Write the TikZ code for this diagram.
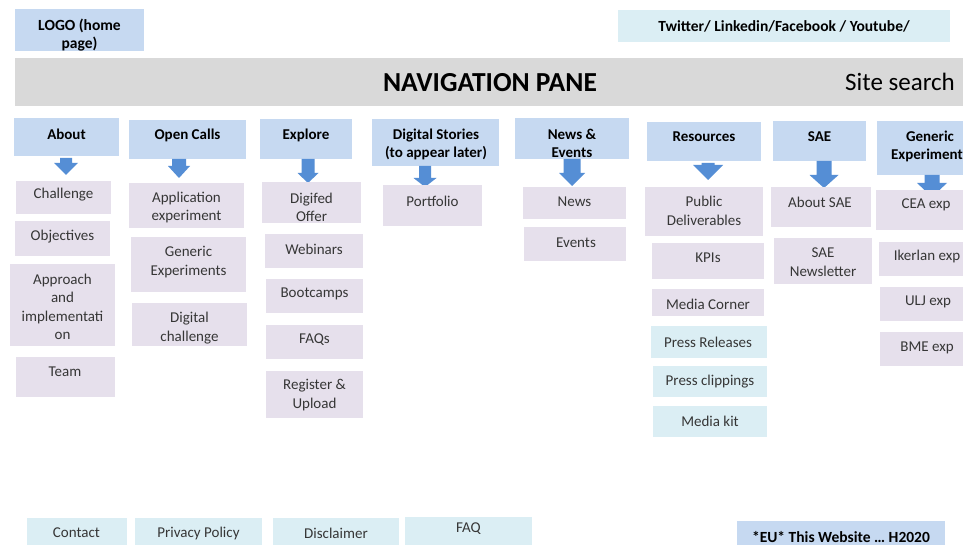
\documentclass[tikz,border=0pt]{standalone}
\usepackage{fontspec}
\setmainfont{Carlito}
\usetikzlibrary{calc}

\definecolor{hdrblue}{HTML}{C6D9F1}
\definecolor{lilac}{HTML}{E6E0EC}
\definecolor{paleCyan}{HTML}{DBEEF4}
\definecolor{paneGray}{HTML}{D9D9D9}
\definecolor{arrowBlue}{HTML}{558ED5}
\definecolor{inkGray}{HTML}{363636}

\tikzset{
  boxbase/.style={rectangle, inner sep=0pt, outer sep=0pt},
  hdrbox/.style={boxbase, fill=hdrblue},
  subbox/.style={boxbase, fill=lilac},
  cyanbox/.style={boxbase, fill=paleCyan},
  panebox/.style={boxbase, fill=paneGray},
  txt/.style={inner sep=0pt, align=center, text=inkGray, yshift=-1pt, font=\fontsize{15}{18.5}\selectfont},
  hdrtxt/.style={txt, text=black, font=\bfseries\fontsize{15}{18.5}\selectfont},
  smallbold/.style={txt, text=black, font=\bfseries\fontsize{15.5}{18.5}\selectfont},
}

% \card[style]{name}{x1}{y1}{x2}{y2}
\newcommand\card[6][subbox]{%
  \node[#1, minimum width={(#5-#3)*1pt}, minimum height={(#6-#4)*1pt}]
    (#2) at ({(#3+#5)/2},{(#4+#6)/2}) {};
}
% \cardtext[style]{name}{x}{y}{text}
\newcommand\cardtext[5][txt]{\node[#1] (#2-t) at (#3,#4) {#5};}

% block arrow hanging below a header node:
% \blockarrow{node}{dx}{top}{head start}{tip}{shaft width}{head width}
\newcommand\blockarrow[7]{%
  \begin{scope}[shift={(#1.south)}]
    \fill[arrowBlue] ({#2-#6/2},#3) -- ({#2+#6/2},#3) -- ({#2+#6/2},#4)
      -- ({#2+#7/2},#4) -- (#2,#5) -- ({#2-#7/2},#4) -- ({#2-#6/2},#4) -- cycle;
  \end{scope}}

\begin{document}
\begin{tikzpicture}[x=1pt,y=-1pt]
\clip (0,0) rectangle (963,545);
\fill[white] (0,0) rectangle (963,545);

% top bar
\card[hdrbox]{logo}{15}{9}{144}{51}
\cardtext[smallbold]{logo}{79.5}{34}{LOGO (home\\page)}
\card[cyanbox]{social}{618}{10}{950}{42}
\cardtext[smallbold]{social}{784}{25.5}{Twitter/ Linkedin/Facebook / Youtube/}

% navigation pane
\card[panebox]{nav}{15}{58}{985}{106}
\node[txt, text=black, font=\bfseries\fontsize{27.5}{30}\selectfont] (nav-t) at (490,81.5) {NAVIGATION PANE};
\node[txt, text=black, font=\fontsize{25}{30}\selectfont] (search) at (900,80.5) {Site search};

% column headers
\card[hdrbox]{about}{14}{118}{119}{156}
\cardtext[hdrtxt]{about}{66.5}{133}{About}
\card[hdrbox]{calls}{129}{120}{246}{159}
\cardtext[hdrtxt]{calls}{187.5}{134}{Open Calls}
\card[hdrbox]{explore}{260}{119}{352}{159}
\cardtext[hdrtxt]{explore}{306}{134}{Explore}
\card[hdrbox]{stories}{372}{119}{499}{166}
\cardtext[hdrtxt]{stories}{436}{143.5}{Digital Stories\\(to appear later)}
\card[hdrbox]{news}{515}{118}{629}{159}
\cardtext[hdrtxt]{news}{572}{142.5}{News \&\\Events}
\card[hdrbox]{res}{647}{122}{761}{161}
\cardtext[hdrtxt]{res}{704}{136}{Resources}
\card[hdrbox]{sae}{773}{121}{866}{161}
\cardtext[hdrtxt]{sae}{819.5}{136}{SAE}
\card[hdrbox]{generic}{877}{121}{983}{175}
\cardtext[hdrtxt]{generic}{930}{145.5}{Generic\\Experiments}

% arrows from headers to their first entries
\blockarrow{about}{-0.5}{2}{7}{19}{12}{24}
\blockarrow{calls}{-8.5}{0}{7}{19}{14}{22}
\blockarrow{explore}{2}{0}{14}{24}{13}{21}
\blockarrow{stories}{-10.5}{0}{12}{21}{12}{23}
\blockarrow{news}{0}{0}{14}{27}{17}{26}
\blockarrow{res}{4}{2}{4}{19}{13}{30}
\blockarrow{sae}{4.5}{0}{14}{27}{15}{29}
\blockarrow{generic}{2}{0}{8}{22}{15}{30}

% About
\card{challenge}{16}{181}{111}{214}
\cardtext{challenge}{63.5}{194}{Challenge}
\card{objectives}{15}{221}{110}{256}
\cardtext{objectives}{62.5}{236}{Objectives}
\card{approach}{10}{264}{115}{346}
\cardtext{approach}{62.5}{306}{Approach\\and\\implementati\\on}
\card{team}{16}{357}{115}{397}
\cardtext{team}{65}{371}{Team}

% Open Calls
\card{appexp}{129}{183}{244}{228}
\cardtext{appexp}{186.5}{206.5}{Application\\experiment}
\card{genexp}{131}{237}{246}{292}
\cardtext{genexp}{188.5}{261}{Generic\\Experiments}
\card{digchal}{132}{303}{247}{346}
\cardtext{digchal}{189.5}{327}{Digital\\challenge}

% Explore
\card{digifed}{262}{182}{361}{223}
\cardtext{digifed}{311.5}{206.5}{Digifed\\Offer}
\card{webinars}{265}{234}{363}{268}
\cardtext{webinars}{314}{248}{Webinars}
\card{bootcamps}{266}{279}{363}{313}
\cardtext{bootcamps}{314.5}{293}{Bootcamps}
\card{faqs}{266}{325}{363}{359}
\cardtext{faqs}{314.5}{339}{FAQs}
\card{register}{266}{371}{363}{418}
\cardtext{register}{314.5}{394}{Register \&\\Upload}

% Digital Stories
\card{portfolio}{383}{185}{482}{226}
\cardtext{portfolio}{432.5}{200}{Portfolio}

% News & Events
\card{newsitem}{523}{187}{626}{219}
\cardtext{newsitem}{574.5}{201}{News}
\card{events}{524}{227}{626}{261}
\cardtext{events}{576}{242}{Events}

% Resources
\card{deliv}{645}{187}{763}{236}
\cardtext{deliv}{704}{210}{Public\\Deliverables}
\card{kpis}{652}{243}{764}{279}
\cardtext{kpis}{708}{257}{KPIs}
\card{media}{652}{289}{764}{316}
\cardtext{media}{708}{303}{Media Corner}
\card[cyanbox]{press}{651}{326}{767}{358}
\cardtext{press}{708}{341}{Press Releases}
\card[cyanbox]{clippings}{653}{366}{767}{397}
\cardtext{clippings}{710}{380.5}{Press clippings}
\card[cyanbox]{mediakit}{653}{406}{767}{437}
\cardtext{mediakit}{710}{420}{Media kit}

% SAE
\card{aboutsae}{771}{187}{871}{227}
\cardtext{aboutsae}{820}{201}{About SAE}
\card{newsletter}{774}{238}{872}{284}
\cardtext{newsletter}{823}{261}{SAE\\Newsletter}

% Generic Experiments
\card{cea}{876}{190}{977}{230}
\cardtext{cea}{926}{204}{CEA exp}
\card{ikerlan}{879}{242}{977}{276}
\cardtext{ikerlan}{927}{256}{Ikerlan exp}
\card{ulj}{880}{287}{977}{321}
\cardtext{ulj}{928}{301}{ULJ exp}
\card{bme}{880}{332}{977}{366}
\cardtext{bme}{927}{347}{BME exp}

% footer
\card[cyanbox]{contact}{27}{518}{127}{548}
\cardtext{contact}{76.5}{532}{Contact}
\card[cyanbox]{privacy}{135}{518}{262}{548}
\cardtext{privacy}{198.5}{532}{Privacy Policy}
\card[cyanbox]{disclaimer}{273}{518}{399}{548}
\cardtext{disclaimer}{336}{532}{Disclaimer}
\card[cyanbox]{faq}{405}{517}{532}{548}
\cardtext{faq}{468.5}{528}{FAQ}
\card[hdrbox]{eu}{737}{521}{945}{548}
\cardtext[smallbold]{eu}{841}{536}{*EU* This Website … H2020}
\end{tikzpicture}
\end{document}
